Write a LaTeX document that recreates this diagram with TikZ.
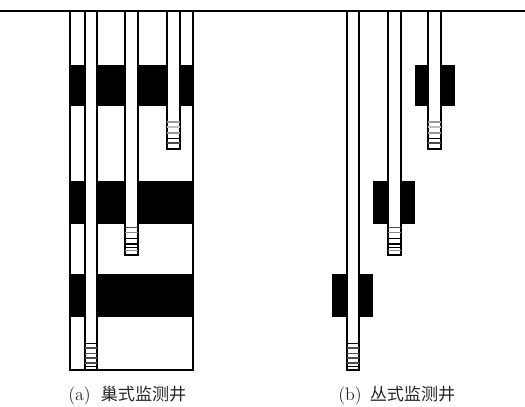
\documentclass[tikz,border=0pt]{standalone}
\usepackage{fontspec}
\newfontfamily\cjk{Noto Sans CJK SC}[Scale=0.95]
\newcommand{\wellpipe}[4]{% xl, xr, bottom, y-list of filter lines
  \fill[white] (#1,11) rectangle (#2,#3);
  \draw[pipe] (#1,11) -- (#1,#3) -- (#2,#3) -- (#2,11);
  \foreach \yy/\cc in {#4} \draw[screenline,draw=\cc] (#1,\yy) -- (#2,\yy);
}
\tikzset{
  pipe/.style={line width=1.5pt,draw=black},
  screenline/.style={line width=0.8pt},
  layer/.style={fill=black,draw=none},
  caption/.style={inner sep=0pt,anchor=west,font=\fontsize{13.5pt}{16pt}\selectfont,text=black!85}
}
\begin{document}
\begin{tikzpicture}[x=0.75pt,y=-0.75pt]
\useasboundingbox (0,0) rectangle (525,407);
% (a)
\fill[white] (69.5,11) rectangle (193,370);
\fill[layer] (69.5,64.5) rectangle (193,105.7);
\fill[layer] (69.5,180.7) rectangle (193,224);
\fill[layer] (69.5,274.3) rectangle (193,317.3);
\draw[pipe] (69.5,11) -- (69.5,370) -- (193,370) -- (193,11);
\wellpipe{84.5}{97}{370}{343.3/black,348/black!70,353.3/black!70,358/black!70,363/black!70,366.7/black}
\wellpipe{125}{138}{255}{227.3/black!70,232.7/black!45,238.3/black,244/black,247.3/black,250.5/black!45}
\wellpipe{166.5}{180}{149}{122/black!40,127/black!25,133/black!40,138.3/black,143/black!70}
% (b)
\fill[layer] (331.7,274.3) rectangle (373.3,317.3);
\fill[layer] (372.7,180.7) rectangle (415.3,224);
\fill[layer] (414.5,64.5) rectangle (454.7,105.7);
\wellpipe{346.7}{358.5}{370}{343.3/black,348/black!70,353.3/black!70,358/black!70,363/black!70,366.7/black}
\wellpipe{387.5}{401}{255}{227.3/black!70,232.7/black!45,238.3/black,244/black,247.3/black,250.5/black!45}
\wellpipe{428}{441}{149}{122/black!40,127/black!25,133/black!40,138.3/black,143/black!70}
% ground
\draw[line width=1.6pt] (0,11) -- (525,11);
% captions
\node[caption] (capa) at (68,396) {(a)\hspace{7.5pt}{\cjk 巢式监测井}};
\node[caption] (capb) at (338,396) {(b)\hspace{6pt}{\cjk 丛式监测井}};
\end{tikzpicture}
\end{document}
